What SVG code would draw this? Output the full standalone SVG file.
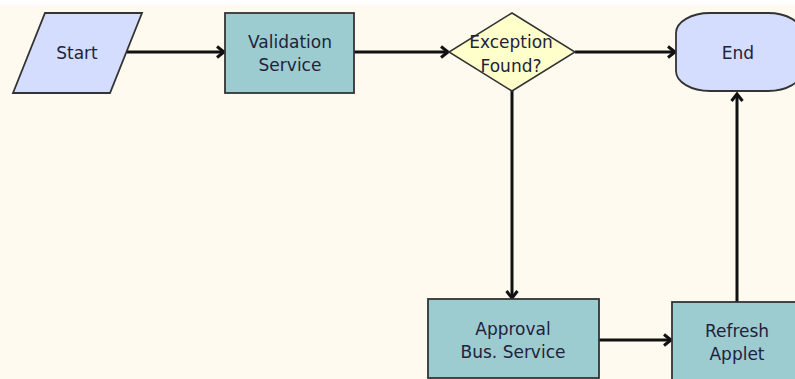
<svg xmlns="http://www.w3.org/2000/svg" width="795" height="379" viewBox="0 0 795 379">
<defs>
<style>
.lbl{font-family:"DejaVu Sans",Verdana,sans-serif;font-size:17px;fill:#22223a;text-anchor:middle}
.box{fill:#9ccbd0;stroke:#333;stroke-width:1.8}
.io{fill:#d4ddfd;stroke:#333;stroke-width:1.8}
.dec{fill:#ffffcc;stroke:#333;stroke-width:1.5}
.conn{fill:none;stroke:#111;stroke-width:3;marker-end:url(#arr)}
</style>
<marker id="arr" markerWidth="14" markerHeight="14" refX="10" refY="7" orient="auto" markerUnits="userSpaceOnUse">
<polyline points="3,1.5 10,7 3,12.5" fill="none" stroke="#111" stroke-width="3" stroke-linejoin="miter"/>
</marker>
</defs>
<rect x="0" y="0" width="795" height="379" fill="#ffffff"/>
<rect x="0" y="5" width="795" height="374" fill="#fefaef"/>
<g id="connectors">
<line class="conn" x1="127" y1="52" x2="224" y2="52"/>
<line class="conn" x1="354" y1="52" x2="448" y2="52"/>
<line class="conn" x1="575" y1="52" x2="675" y2="52"/>
<line class="conn" x1="512" y1="91" x2="512" y2="298"/>
<line class="conn" x1="599" y1="340" x2="671" y2="340"/>
<line class="conn" x1="737" y1="302" x2="737" y2="94"/>
</g>
<g id="start">
<polygon class="io" points="45,13 142,13 110,93 13,93"/>
<text class="lbl" x="77" y="59">Start</text>
</g>
<g id="validation">
<rect class="box" x="225" y="13" width="129" height="80"/>
<text class="lbl" x="290" y="48">Validation</text>
<text class="lbl" x="290" y="71">Service</text>
</g>
<g id="exception">
<polygon class="dec" points="512,13 575,52 512,91 449,52"/>
<text class="lbl" x="511" y="48">Exception</text>
<text class="lbl" x="511" y="72">Found?</text>
</g>
<g id="end">
<rect class="io" x="676" y="13" width="126" height="78" rx="34" ry="20"/>
<text class="lbl" x="738" y="59">End</text>
</g>
<g id="approval">
<rect class="box" x="428" y="299" width="171" height="79"/>
<text class="lbl" x="513" y="335">Approval</text>
<text class="lbl" x="513" y="358">Bus. Service</text>
</g>
<g id="refresh">
<rect class="box" x="672" y="302" width="130" height="80"/>
<text class="lbl" x="737" y="337">Refresh</text>
<text class="lbl" x="737" y="360">Applet</text>
</g>
</svg>
